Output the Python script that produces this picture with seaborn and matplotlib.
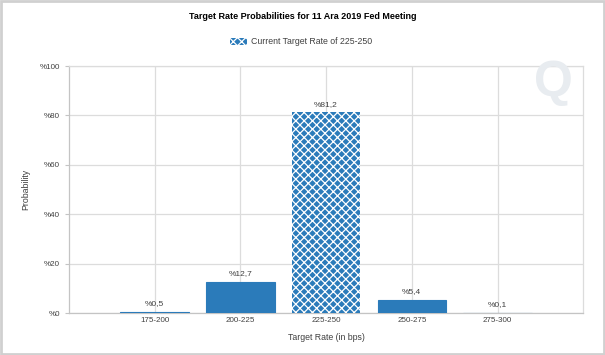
import pandas as pd
import seaborn as sns
import matplotlib.pyplot as plt
from matplotlib.patches import Patch, Rectangle

# Chart data
categories = ['175-200', '200-225', '225-250', '250-275', '275-300']
probabilities = [0.5, 12.7, 81.2, 5.4, 0.1]
current_rate = '225-250'
y_ticks = [0, 20, 40, 60, 80, 100]

df = pd.DataFrame({'rate': categories, 'prob': probabilities})

sns.set_theme(style='white')
plt.rcParams['font.family'] = ['Liberation Sans', 'DejaVu Sans']
plt.rcParams['hatch.linewidth'] = 0.9

blue = '#2b7bba'
grid_col = '#dcdcdc'
text_col = '#404040'

fig = plt.figure(figsize=(6.05, 3.55), dpi=100)
ax = fig.add_axes([0.114, 0.118, 0.85, 0.696])

sns.barplot(data=df, x='rate', y='prob', color=blue, width=0.8,
            saturation=1, ax=ax, zorder=3)

# thin outline keeps tiny bars visible; hatch the current target rate bar
for bar, cat in zip(ax.patches, categories):
    bar.set_edgecolor(blue)
    bar.set_linewidth(0.8)
    if cat == current_rate:
        bar.set_hatch('xxxx')
        bar.set_edgecolor('white')
        bar.set_linewidth(0)

# value labels
for i, v in enumerate(probabilities):
    ax.text(i, v + 1.8, '%' + f'{v:.1f}'.replace('.', ','), ha='center',
            va='bottom', fontsize=6, color=text_col)

ax.set_xlim(-1, 5)
ax.set_ylim(0, 100)
ax.set_yticks(y_ticks)
ax.set_yticklabels(['%' + str(t) for t in y_ticks])
ax.grid(True, color=grid_col, linewidth=0.9, zorder=0)
ax.set_axisbelow(True)
for s in ['top', 'right']:
    ax.spines[s].set_color(grid_col)
    ax.spines[s].set_linewidth(0.9)
for s in ['left', 'bottom']:
    ax.spines[s].set_color('#c4c4c4')
    ax.spines[s].set_linewidth(0.9)
ax.tick_params(axis='y', left=True, direction='out', length=3, width=0.8,
               color='#c4c4c4', labelsize=5.8, labelcolor=text_col, pad=3.5)
ax.tick_params(axis='x', bottom=False, length=0, labelsize=5.8,
               labelcolor=text_col, pad=3)

ax.set_xlabel('Target Rate (in bps)', fontsize=6.3, color=text_col)
ax.set_ylabel('Probability', fontsize=6.3, color=text_col)
ax.xaxis.set_label_coords(0.5, -0.08)
ax.yaxis.set_label_coords(-0.075, 0.5)

fig.suptitle('Target Rate Probabilities for 11 Ara 2019 Fed Meeting',
             x=0.5, y=0.966, fontsize=6.5, fontweight='bold', color='black')

legend_patch = Patch(facecolor=blue, edgecolor='white', hatch='xxxx',
                     linewidth=0, label='Current Target Rate of 225-250')
fig.legend(handles=[legend_patch], loc='center', bbox_to_anchor=(0.497, 0.882),
           frameon=False, fontsize=6.3, handlelength=2.0, handleheight=0.8,
           labelcolor=text_col, handletextpad=0.4)

# faint watermark in the corner
fig.text(0.915, 0.765, 'Q', fontsize=36, fontweight='bold', color='#e8ecf0',
         ha='center', va='center', zorder=0)

# light frame around the picture
fig.patches.append(Rectangle((0.002, 0.003), 0.996, 0.994, transform=fig.transFigure,
                             fill=False, edgecolor='#d0d0d0', linewidth=2))

plt.savefig('out.png', dpi=100)
